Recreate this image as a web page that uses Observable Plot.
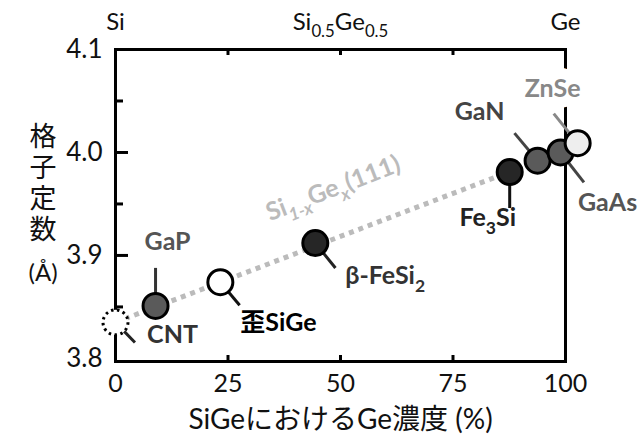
<!DOCTYPE html>
<html><head><meta charset="utf-8">
<script src="https://cdn.jsdelivr.net/npm/d3@7"></script>
<script src="https://cdn.jsdelivr.net/npm/@observablehq/plot@0.6"></script>
<style>body{margin:0;background:#fff}svg{display:block}</style>
</head><body><div id="chart"></div>
<script>
// ---- data ----
const materials = ["CNT", "GaP", "歪SiGe", "β-FeSi_{2}", "Fe_{3}Si", "GaN", "GaAs", "ZnSe"];
const geConcentration = [0, 8.9, 23.3, 44.4, 87.6, 93.8, 98.9, 102.7];
const latticeConstant = [3.835, 3.851, 3.874, 3.912, 3.981, 3.992, 4.000, 4.009];
const sigeLineX = [0, 100];
const sigeLineY = [3.835, 4.002];
const sigeLineLabel = "Si~{1-x}Ge~{x}(111)";
const sigeLabelX = 48.4, sigeLabelY = 3.965;
const xTicks = [0, 25, 50, 75, 100];
const xMinorTicks = [25, 50, 75];
const yTicks = [3.8, 3.9, 4.0, 4.1];
const yMajorInner = [3.9, 4.0];
const yMinorTicks = [3.85, 3.95, 4.05];
const topTicks = [0, 50, 100];
const topLabels = ["Si", "Si_{0.5}Ge_{0.5}", "Ge"];
const xTitle = "SiGeにおけるGe濃度 (%)";
const yTitle = "格\n子\n定\n数";
const yUnit = "(Å)";

// ---- styles ----
const pointFill = ["#ffffff", "#5a5a5a", "#ffffff", "#262626", "#262626", "#5a5a5a", "#5a5a5a", "#eeeeee"];
const labelColor = ["#333333", "#555555", "#000000", "#333333", "#222222", "#444444", "#555555", "#888888"];
const leaderColor = ["#222222", "#333333", "#111111", "#222222", "#111111", "#444444", "#444444", "#888888"];
const leaderRotate = [136, 0, 140, 141, 180, 320, 142, 321];
const leaderLength = [28, 38, 30, 32, 36, 36, 38, 38];
const labelDx = [57, 12, 20, 30, -22, -58, 47, -25];
const labelDy = [13, -64, 41, 33, 46, -49, 51, -54];
const labelAnchor = ["middle", "middle", "start", "start", "middle", "middle", "middle", "middle"];

const idx = materials.map((_, i) => i);
const solid = idx.filter(i => i !== 0);
const font = "Lato, 'Noto Sans CJK JP', sans-serif";

const marks = [
  Plot.frame({stroke: "black", strokeWidth: 3}),
  Plot.tickY(yMajorInner, {y: d => d, insetRight: 450 - 13, strokeWidth: 3}),
  Plot.tickY(yMinorTicks, {y: d => d, insetRight: 450 - 8, strokeWidth: 3}),
  Plot.tickX(xMinorTicks, {x: d => d, insetTop: 312 - 6, strokeWidth: 3}),
  Plot.tickX(xMinorTicks, {x: d => d, insetBottom: 312 - 6, strokeWidth: 3}),
  Plot.text(yTicks, {y: d => d, text: d => d.toFixed(1), frameAnchor: "left", dx: -13, textAnchor: "end", lineAnchor: "middle", fontSize: 26, fill: "#111"}),
  Plot.text(xTicks, {x: d => d, text: d => String(d), frameAnchor: "bottom", lineAnchor: "middle", dy: 22, fontSize: 25, fill: "#111"}),
  Plot.text(topTicks, {x: d => d, text: (d, i) => topLabels[i], frameAnchor: "top", lineAnchor: "middle", dy: -27, fontSize: 24, fill: "#111"}),
  Plot.text([xTitle], {text: d => d, frameAnchor: "bottom", lineAnchor: "middle", dy: 59, fontSize: 28, fill: "#111"}),
  Plot.text([yTitle], {text: d => d, frameAnchor: "left", lineAnchor: "middle", dx: -86, dy: -23, lineHeight: 1.15, fontSize: 27, fill: "#111"}),
  Plot.text([yUnit], {text: d => d, frameAnchor: "left", lineAnchor: "middle", dx: -87, dy: 68, fontSize: 24, fill: "#111"}),
  Plot.line(sigeLineX.map((x, i) => ({x, y: sigeLineY[i]})), {x: "x", y: "y", stroke: "#bbbbbb", strokeWidth: 5, strokeDasharray: "5,5", strokeLinecap: "butt"}),
  Plot.text([sigeLineLabel], {x: () => sigeLabelX, y: () => sigeLabelY, text: d => d, rotate: -21, fontSize: 25, fontWeight: "bold", fill: "#bbbbbb"}),
  Plot.vector(idx, {x: i => geConcentration[i], y: i => latticeConstant[i], length: i => leaderLength[i], rotate: i => leaderRotate[i], anchor: "start", r: 0, stroke: i => leaderColor[i], strokeWidth: 3, strokeLinecap: "butt"}),
  Plot.dot([0], {x: i => geConcentration[i], y: i => latticeConstant[i], r: 12.5, fill: "white", stroke: "black", strokeWidth: 3, strokeDasharray: "2.5,3.5"}),
  Plot.dot(solid, {x: i => geConcentration[i], y: i => latticeConstant[i], r: 12.5, fill: i => pointFill[i], stroke: "black", strokeWidth: 3}),
  ...idx.map(i => Plot.text([i], {
    x: i => geConcentration[i], y: i => latticeConstant[i], text: i => materials[i],
    dx: labelDx[i], dy: labelDy[i], textAnchor: labelAnchor[i],
    fontSize: 25, fontWeight: "bold", fill: labelColor[i],
    ...(materials[i] === "ZnSe" ? {stroke: "white", strokeWidth: 22, strokeLinejoin: "round"} : {})
  }))
];

const chart = Plot.plot({
  width: 641, height: 436,
  marginLeft: 115, marginRight: 76, marginTop: 49, marginBottom: 75,
  x: {domain: [0, 100], axis: null},
  y: {domain: [3.797, 4.1], axis: null},
  color: {type: "identity"},
  length: {type: "identity"},
  style: {fontFamily: font, background: "white", color: "black"},
  marks
});

// subscripts: _{...} normal, ~{...} italic
chart.querySelectorAll("text").forEach(t => {
  if (t.children.length || !/[_~]\{/.test(t.textContent)) return;
  const s = t.textContent;
  const re = /([_~])\{([^}]*)\}/g;
  let last = 0, m, parts = [];
  while ((m = re.exec(s))) {
    if (m.index > last) parts.push({t: s.slice(last, m.index)});
    parts.push({t: m[2], sub: true, it: m[1] === "~"});
    last = re.lastIndex;
  }
  if (last < s.length) parts.push({t: s.slice(last)});
  t.textContent = "";
  let down = false;
  parts.forEach(p => {
    const ts = document.createElementNS("http://www.w3.org/2000/svg", "tspan");
    ts.textContent = p.t;
    if (p.sub) {
      ts.setAttribute("font-size", "70%");
      ts.setAttribute("dy", (down ? 0 : 0.3 / 0.7).toFixed(3) + "em");
      if (p.it) ts.setAttribute("font-style", "italic");
      down = true;
    } else if (down) {
      ts.setAttribute("dy", "-0.3em");
      down = false;
    }
    t.appendChild(ts);
  });
});
document.getElementById("chart").appendChild(chart);
</script>
</body></html>
